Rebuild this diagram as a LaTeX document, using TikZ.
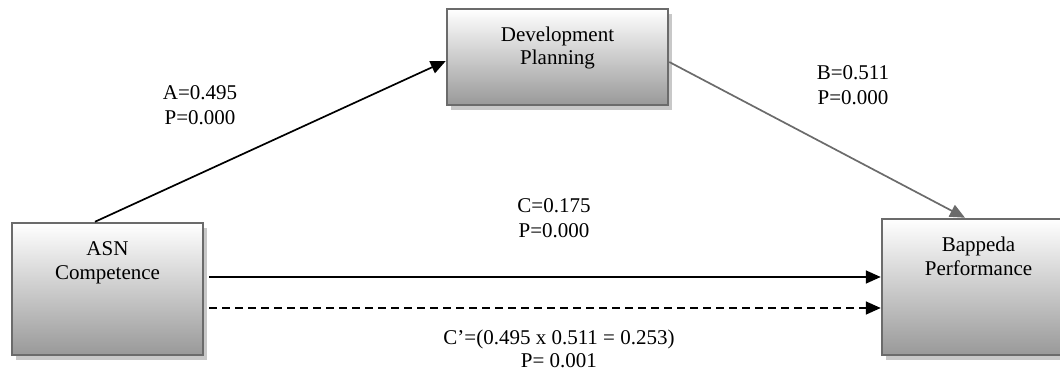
\documentclass[tikz,border=0pt]{standalone}
\usepackage{fontspec}
\setmainfont{Liberation Serif}
\usetikzlibrary{arrows.meta,calc,shadows}
\definecolor{boxborder}{HTML}{6B6B6B}
\definecolor{shadowgray}{HTML}{C8C8C8}
\definecolor{bgray}{HTML}{6B6B6B}
\begin{document}
\begin{tikzpicture}[x=1pt,y=-1pt,
  box/.style={draw=boxborder, line width=2.5pt, top color=white, bottom color=gray!80,
    inner sep=0pt, general shadow={fill=shadowgray, shadow xshift=4pt, shadow yshift=-5pt}},
  arr/.style={line width=1.7pt, -{Triangle[length=15pt,width=13pt]}},
  lbl/.style={align=center, font=\fontsize{21}{25}\selectfont, inner sep=0pt, anchor=base}]
\useasboundingbox (0,0) rectangle (1060,372);
\clip (0,0) rectangle (1060,372);
\node[box] (dp) at (557.5,57) {\parbox[t][96pt][t]{221pt}{\centering\fontsize{21}{24}\selectfont\rule{0pt}{32pt}Development\\Planning}};
\node[box] (asn) at (107.5,289) {\parbox[t][132pt][t]{191pt}{\centering\fontsize{21}{24}\selectfont\rule{0pt}{32pt}ASN\\Competence}};
\node[box] (bp) at (978.5,287) {\parbox[t][136pt][t]{193pt}{\centering\fontsize{21}{24}\selectfont\rule{0pt}{32pt}Bappeda\\Performance}};
\draw[arr] ($(asn.north)+(-12.5,0)$) -- ($(dp.west)+(0,4)$);
\draw[arr, draw=bgray] ($(dp.east)+(0,5)$) -- ($(bp.north)+(-13.5,0)$);
\draw[arr] ($(asn.east)+(5,-12)$) coordinate (c1) -- (c1 -| bp.west);
\draw[arr, dash pattern=on 8pt off 5pt] ($(asn.east)+(5,19)$) coordinate (c2) -- (c2 -| bp.west);
\node[lbl] (la) at (200,124) {A=0.495\\P=0.000};
\node[lbl] (lb) at (853,104) {B=0.511\\P=0.000};
\node[lbl] (lc) at (554,237) {C=0.175\\P=0.000};
\node[lbl, font=\fontsize{21}{23}\selectfont] (lcp) at (559,367) {C’=(0.495 x 0.511 = 0.253)\\P= 0.001};
\end{tikzpicture}
\end{document}
